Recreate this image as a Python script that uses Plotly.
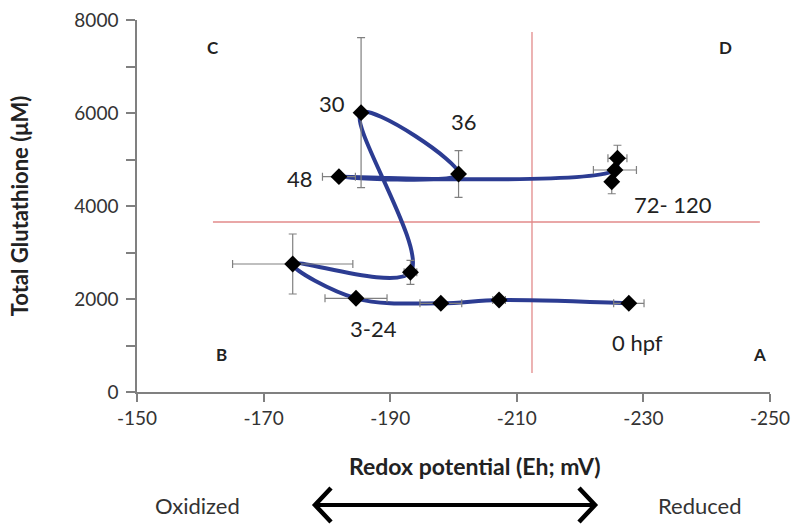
import plotly.graph_objects as go

# Redox potential (Eh, mV) and total glutathione (uM), in developmental order (hpf)
eh = [-227.7, -207.2, -198.0, -184.6, -174.6, -193.2, -185.4, -200.8, -181.9, -225.5, -225.9, -225.0]
gsh = [1907, 1978, 1907, 2015, 2753, 2574, 6007, 4688, 4631, 4774, 5026, 4523]
eh_err = [2.4, 1.0, 3.3, 4.9, 9.5, 1.0, 0.5, 0.5, 2.6, 3.4, 1.5, 0.5]
gsh_err = [40, 40, 40, 60, 645, 258, 1613, 501, 60, 60, 280, 260]

# Quadrant divider lines
eh_split = -212.4
gsh_split = 3656
eh_span = [-162.0, -248.4]
gsh_span = [409, 7742]

# Point labels
lab_text = ["30", "36", "48", "72- 120", "3-24", "0 hpf"]
lab_x = [-180.8, -201.6, -175.8, -234.6, -187.4, -229.1]
lab_y = [6194, 5828, 4602, 4022, 1376, 1054]

# Quadrant letters
quad_text = ["C", "D", "B", "A"]
quad_x = [-162.0, -242.9, -163.4, -248.4]
quad_y = [7419, 7419, 796, 796]

x_ticks = [-150, -170, -190, -210, -230, -250]
y_ticks = [0, 1000, 2000, 3000, 4000, 5000, 6000, 7000, 8000]
y_ticktext = ["0", "", "2000", "", "4000", "", "6000", "", "8000"]

FONT = "Lato, Open Sans, sans-serif"
LINE_BLUE = "#2c3c92"
GRAY = "#808080"

fig = go.Figure()
fig.add_trace(go.Scatter(
    x=eh, y=gsh, mode="lines",
    line=dict(color=LINE_BLUE, width=4, shape="spline", smoothing=1.0),
    hoverinfo="skip", showlegend=False,
))
fig.add_trace(go.Scatter(
    x=eh, y=gsh, mode="markers",
    marker=dict(symbol="diamond", size=13, color="black"),
    error_x=dict(type="data", array=eh_err, color=GRAY, thickness=1.2, width=4),
    error_y=dict(type="data", array=gsh_err, color=GRAY, thickness=1.2, width=4),
    showlegend=False,
))

shapes = [
    dict(type="line", xref="x", yref="y", x0=eh_split, x1=eh_split,
         y0=gsh_span[0], y1=gsh_span[1], line=dict(color="#e28a8a", width=1.3), layer="below"),
    dict(type="line", xref="x", yref="y", x0=eh_span[0], x1=eh_span[1],
         y0=gsh_split, y1=gsh_split, line=dict(color="#e28a8a", width=1.3), layer="below"),
]

# Double-headed arrow below the axis (paper coordinates)
def px2p(px, py):
    return (px - 137) / 633.0, (392 - py) / 372.0

ax0, ay = px2p(318, 505)
ax1, _ = px2p(592, 505)
shapes.append(dict(type="line", xref="paper", yref="paper", x0=ax0, x1=ax1, y0=ay, y1=ay,
                   line=dict(color="black", width=4)))
l1 = px2p(331, 488); l2 = px2p(315, 505); l3 = px2p(331, 522)
r1 = px2p(579, 488); r2 = px2p(595, 505); r3 = px2p(579, 522)
shapes.append(dict(type="path", xref="paper", yref="paper",
                   path=f"M {l1[0]} {l1[1]} L {l2[0]} {l2[1]} L {l3[0]} {l3[1]}",
                   line=dict(color="black", width=4.5)))
shapes.append(dict(type="path", xref="paper", yref="paper",
                   path=f"M {r1[0]} {r1[1]} L {r2[0]} {r2[1]} L {r3[0]} {r3[1]}",
                   line=dict(color="black", width=4.5)))

annotations = []
for t, x, y in zip(lab_text, lab_x, lab_y):
    annotations.append(dict(text=t, x=x, y=y, xref="x", yref="y", showarrow=False,
                            xanchor="center", yanchor="middle",
                            font=dict(family=FONT, size=22, color="#222222")))
for t, x, y in zip(quad_text, quad_x, quad_y):
    annotations.append(dict(text=f"<b>{t}</b>", x=x, y=y, xref="x", yref="y", showarrow=False,
                            xanchor="center", yanchor="middle",
                            font=dict(family=FONT, size=17, color="#222222")))

tx, ty = px2p(474, 466)
annotations.append(dict(text="<b>Redox potential (Eh; mV)</b>", x=tx, y=ty, xref="paper", yref="paper",
                        xanchor="center", yanchor="middle",
                        showarrow=False, font=dict(family=FONT, size=23, color="#222222")))
ox, oy = px2p(197, 505)
annotations.append(dict(text="Oxidized", x=ox, y=oy, xref="paper", yref="paper",
                        xanchor="center", yanchor="middle",
                        showarrow=False, font=dict(family=FONT, size=22, color="#333333")))
rx, ry = px2p(700, 505)
annotations.append(dict(text="Reduced", x=rx, y=ry, xref="paper", yref="paper",
                        xanchor="center", yanchor="middle",
                        showarrow=False, font=dict(family=FONT, size=22, color="#333333")))

fig.update_layout(
    width=800, height=532,
    margin=dict(l=137, r=30, t=20, b=140),
    paper_bgcolor="white", plot_bgcolor="white",
    font=dict(family=FONT, size=16, color="#333333"),
    shapes=shapes, annotations=annotations,
    xaxis=dict(range=[-150, -250], tickvals=x_ticks, ticktext=[str(v) for v in x_ticks],
               automargin=False,
               showgrid=False, zeroline=False, showline=True, linecolor=GRAY, linewidth=1.5,
               ticks="outside", ticklen=8, tickcolor=GRAY, tickwidth=1.5,
               tickfont=dict(family=FONT, size=19, color="#333333")),
    yaxis=dict(range=[0, 8000], tickvals=y_ticks, ticktext=y_ticktext,
               automargin=False, ticklabelstandoff=4,
               showgrid=False, zeroline=False, showline=True, linecolor=GRAY, linewidth=1.5,
               ticks="outside", ticklen=9, tickcolor=GRAY, tickwidth=1.5,
               tickfont=dict(family=FONT, size=19, color="#333333"),
               title=dict(text="<b>Total Glutathione (μM)</b>", standoff=40,
                          font=dict(family=FONT, size=22, color="#222222"))),
)

fig.write_html("out.html", config={"displayModeBar": False},
               post_script="document.body.style.margin='0';")
